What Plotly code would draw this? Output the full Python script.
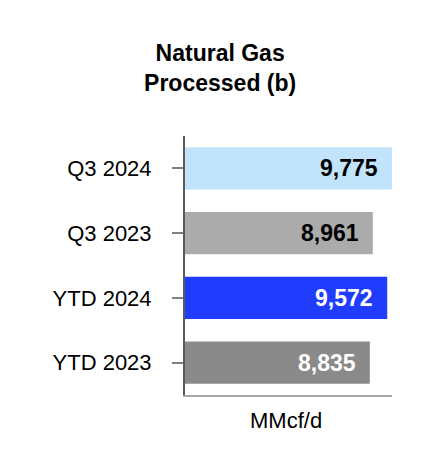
import plotly.graph_objects as go

categories = ["Q3 2024", "Q3 2023", "YTD 2024", "YTD 2023"]
values = [9775, 8961, 9572, 8835]
value_labels = ["9,775", "8,961", "9,572", "8,835"]
bar_colors = ["#C2E3FC", "#ABABAB", "#1F3CFF", "#8A8A8A"]
text_colors = ["#000000", "#000000", "#FFFFFF", "#FFFFFF"]
title_text = "<b>Natural Gas<br>Processed (b)</b>"
unit_text = "MMcf/d"

FONT = "Liberation Sans, Arial, sans-serif"

fig = go.Figure()
fig.add_trace(go.Bar(
    y=categories, x=values, orientation="h",
    marker=dict(color=bar_colors, line=dict(width=0)),
    hoverinfo="skip",
))

for cat, v, lab, tc in zip(categories, values, value_labels, text_colors):
    fig.add_annotation(
        x=v, y=cat, xref="x", yref="y", text="<b>" + lab + "</b>",
        showarrow=False, xanchor="right", yanchor="middle", xshift=-12,
        font=dict(family=FONT, size=23, color=tc),
    )

fig.add_annotation(
    x=0.49, y=0, xref="paper", yref="paper", text=unit_text,
    showarrow=False, xanchor="center", yanchor="middle", yshift=-25,
    font=dict(family=FONT, size=22, color="#000000"),
)

fig.update_layout(
    width=426, height=468,
    margin=dict(l=177, r=42, t=128, b=81),
    paper_bgcolor="white", plot_bgcolor="white",
    showlegend=False,
    bargap=0.35,
    title=dict(text=title_text, x=0.498, xanchor="center", y=1 - 53 / 468, yanchor="top",
               font=dict(family=FONT, size=23, color="#000000")),
    font=dict(family=FONT, color="#000000"),
)
fig.update_xaxes(
    range=[1000, 9775], showgrid=False, zeroline=False, showticklabels=False,
    showline=True, linecolor="#A6A6A6", linewidth=2, ticks="",
)
fig.update_yaxes(
    categoryorder="array", categoryarray=categories, autorange="reversed",
    showgrid=False, zeroline=False,
    showline=True, linecolor="#5A5A5A", linewidth=2,
    ticks="outside", ticklen=11, tickcolor="#808080", tickwidth=2,
    ticklabelstandoff=16,
    tickfont=dict(family=FONT, size=22, color="#000000"),
)

fig.write_html("out.html")
